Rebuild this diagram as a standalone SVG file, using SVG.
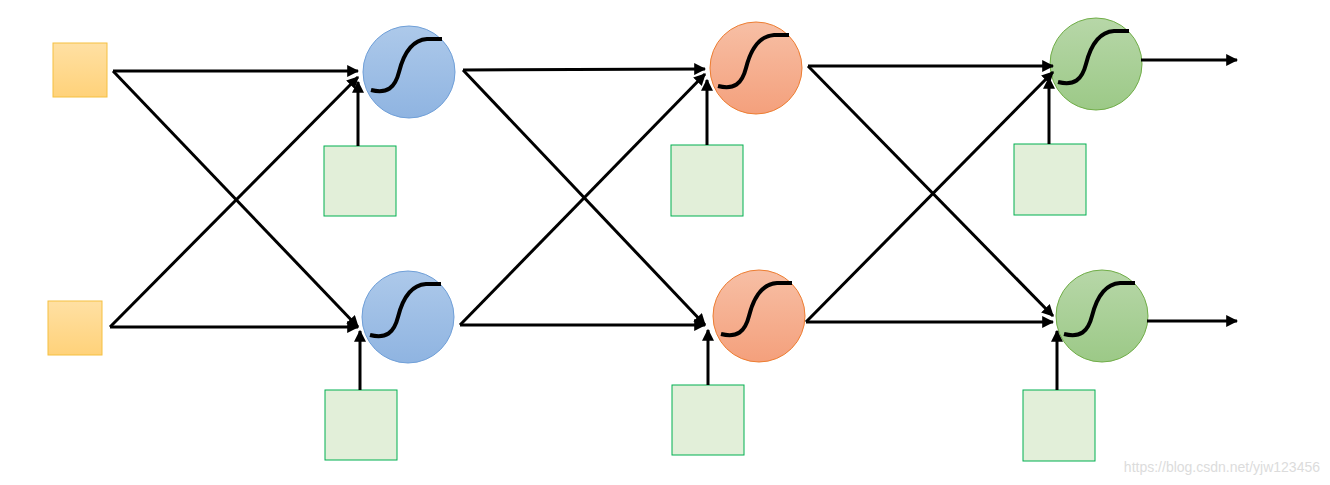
<svg xmlns="http://www.w3.org/2000/svg" width="1330" height="485" viewBox="0 0 1330 485">
<defs>
<linearGradient id="gb" x1="0" y1="0" x2="0" y2="1"><stop offset="0" stop-color="#adc9ea"/><stop offset="1" stop-color="#8fb4e1"/></linearGradient>
<linearGradient id="go" x1="0" y1="0" x2="0" y2="1"><stop offset="0" stop-color="#f7bfa5"/><stop offset="1" stop-color="#f4a07c"/></linearGradient>
<linearGradient id="gg" x1="0" y1="0" x2="0" y2="1"><stop offset="0" stop-color="#b7d7a8"/><stop offset="1" stop-color="#9cc987"/></linearGradient>
<linearGradient id="gy" x1="0" y1="0" x2="0" y2="1"><stop offset="0" stop-color="#ffe0a3"/><stop offset="1" stop-color="#ffd27a"/></linearGradient>
<marker id="ar" viewBox="0 0 10 10" refX="9" refY="5" markerWidth="4" markerHeight="4" orient="auto" markerUnits="strokeWidth"><path d="M0,0 L10,5 L0,10 z" fill="#000"/></marker>
<path id="sig" d="M-38,18 C-22,22 -14,16 -10,0 S2,-32 18,-33 L33,-33" fill="none" stroke="#000" stroke-width="4"/>
</defs>
<style>
.in{fill:url(#gy);stroke:#f5c040;stroke-width:1}
.bias{fill:#e2efd9;stroke:#00b050;stroke-width:1}
.b{fill:url(#gb);stroke:#6f9fd8;stroke-width:1}
.o{fill:url(#go);stroke:#ed7d31;stroke-width:1}
.g{fill:url(#gg);stroke:#70ad47;stroke-width:1}
.c line{stroke:#000;stroke-width:3;marker-end:url(#ar)}
</style>
<g id="x1"><rect class="in" x="53" y="43" width="54" height="54"/></g>
<g id="x2"><rect class="in" x="48" y="301" width="54" height="54"/></g>
<g id="n11"><circle class="b" cx="409" cy="72" r="46"/><use href="#sig" x="409" y="72"/></g>
<g id="n12"><circle class="b" cx="408" cy="317" r="46"/><use href="#sig" x="408" y="317"/></g>
<g id="n21"><circle class="o" cx="756" cy="68" r="46"/><use href="#sig" x="756" y="68"/></g>
<g id="n22"><circle class="o" cx="759" cy="316" r="46"/><use href="#sig" x="759" y="316"/></g>
<g id="n31"><circle class="g" cx="1096" cy="64" r="46"/><use href="#sig" x="1096" y="64"/></g>
<g id="n32"><circle class="g" cx="1102" cy="316" r="46"/><use href="#sig" x="1102" y="316"/></g>
<g id="b11"><rect class="bias" x="324" y="146" width="72" height="70"/></g>
<g id="b12"><rect class="bias" x="325" y="390" width="72" height="70"/></g>
<g id="b21"><rect class="bias" x="671" y="145" width="72" height="71"/></g>
<g id="b22"><rect class="bias" x="672" y="385" width="72" height="70"/></g>
<g id="b31"><rect class="bias" x="1014" y="144" width="72" height="71"/></g>
<g id="b32"><rect class="bias" x="1023" y="390" width="72" height="71"/></g>
<g id="connectors" class="c">
<line x1="113" y1="71" x2="358" y2="71"/>
<line x1="113" y1="71" x2="358" y2="327"/>
<line x1="110" y1="327" x2="358" y2="77"/>
<line x1="110" y1="327" x2="358" y2="327"/>
<line x1="463" y1="70" x2="705" y2="69"/>
<line x1="463" y1="70" x2="705" y2="325"/>
<line x1="460" y1="325" x2="705" y2="74"/>
<line x1="460" y1="325" x2="705" y2="325"/>
<line x1="808" y1="66" x2="1053" y2="66"/>
<line x1="808" y1="66" x2="1053" y2="316"/>
<line x1="806" y1="322" x2="1053" y2="72"/>
<line x1="806" y1="322" x2="1053" y2="322"/>
<line x1="1141" y1="60" x2="1237" y2="60"/>
<line x1="1147" y1="321" x2="1237" y2="321"/>
<line x1="358" y1="146" x2="358" y2="82"/>
<line x1="360" y1="390" x2="360" y2="331"/>
<line x1="707" y1="145" x2="707" y2="80"/>
<line x1="708" y1="385" x2="708" y2="330"/>
<line x1="1049" y1="144" x2="1049" y2="78"/>
<line x1="1057" y1="390" x2="1057" y2="331"/>
</g>
<text x="1320" y="472" text-anchor="end" font-family="Liberation Sans, sans-serif" font-size="14" fill="#dcdcdc">https://blog.csdn.net/yjw123456</text>
</svg>
